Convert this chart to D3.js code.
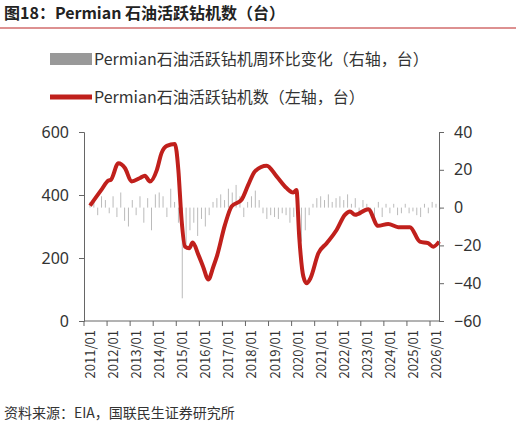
<!DOCTYPE html>
<html><head><meta charset="utf-8">
<script src="https://cdn.jsdelivr.net/npm/d3@7"></script>
<style>body{margin:0;background:#fff;font-family:"Noto Sans CJK SC","Noto Sans",sans-serif;}</style>
</head><body><div id="chart"></div>
<script>
// rig count (left axis): [decimal year, rigs]
var rigYears = [2011.0,2011.5,2011.8,2011.9,2012.23,2012.52,2012.8,2013.17,2013.38,2013.6,2013.9,2014.1,2014.33,2014.68,2014.83,2014.97,2015.12,2015.3,2015.45,2015.7,2015.9,2016.13,2016.35,2016.5,2016.85,2017.14,2017.57,2017.86,2018.15,2018.66,2019.09,2019.52,2019.81,2019.95,2020.07,2020.25,2020.39,2020.56,2020.9,2021.26,2021.69,2022.05,2022.27,2022.49,2023.06,2023.49,2023.93,2024.36,2024.87,2025.3,2025.66,2025.88,2026.14];
var rigCount = [366,417,446,448,501,485,443,454,461,443,480,533,556,562,480,321,236,231,249,210,173,132,173,205,305,364,385,432,475,493,459,422,408,416,268,141,120,136,215,247,289,337,348,337,355,302,308,298,298,252,247,236,252];
// change (right axis), one bar per two months from 2011/01
var changeStart = 2011.0, changeStep = 1 / 6;
var rigChange = [3,5,-4,6,4,-3, 6,-5,8,-7,-10,4, -4,6,-8,5,-12,7, 8,6,-5,10,3,-8,
  -48,-20,-12,-8,-15,-6, -10,-4,3,5,7,4, 10,8,12,6,-5,3, 6,9,4,-3,-6,-4,
  -5,-6,-3,-4,-8,-5, 3,-18,-12,-4,2,5, 6,4,7,3,5,6, 4,7,2,5,-3,4,
  2,-4,-6,3,-5,2, -3,2,-4,-3,2,-3, -2,-4,-5,2,-3,3, 2,-1];
var yearLabels = ["2011/01","2012/01","2013/01","2014/01","2015/01","2016/01","2017/01","2018/01","2019/01","2020/01","2021/01","2022/01","2023/01","2024/01","2025/01","2026/01"];

var W = 516, H = 430;
var svg = d3.select("#chart").append("svg").attr("width", W).attr("height", H);

// title
svg.append("text").attr("x", 4).attr("y", 19).attr("font-size", 16).attr("font-weight", "bold")
  .attr("fill", "#222").text("图18：Permian 石油活跃钻机数（台）");
svg.append("line").attr("x1", 0).attr("x2", W).attr("y1", 28).attr("y2", 28).attr("stroke", "#b22").attr("stroke-width", 1);

// legend
svg.append("rect").attr("x", 50).attr("y", 53).attr("width", 42).attr("height", 12).attr("fill", "#999");
svg.append("text").attr("x", 94).attr("y", 65).attr("font-size", 16).attr("fill", "#333").text("Permian石油活跃钻机周环比变化（右轴，台）");
svg.append("line").attr("x1", 50).attr("x2", 92).attr("y1", 97).attr("y2", 97).attr("stroke", "#c0201c").attr("stroke-width", 5);
svg.append("text").attr("x", 94).attr("y", 103).attr("font-size", 16).attr("fill", "#333").text("Permian石油活跃钻机数（左轴，台）");

var x = d3.scaleLinear().domain([2010.74, 2026.13]).range([84, 439]);
var yL = d3.scaleLinear().domain([0, 600]).range([321, 132]);
var yR = d3.scaleLinear().domain([-60, 40]).range([321, 132]);

// bars
svg.selectAll(".bar").data(rigChange).enter().append("rect")
  .attr("x", function(d, i) { return x(changeStart + i * changeStep) - 0.5; })
  .attr("width", 1)
  .attr("y", function(d) { return yR(Math.max(0, d)); })
  .attr("height", function(d) { return Math.abs(yR(d) - yR(0)); })
  .attr("fill", "#bbb");

// line
var pts = rigYears.map(function(t, i) { return [t, rigCount[i]]; });
svg.append("path").datum(pts)
  .attr("d", d3.line().curve(d3.curveMonotoneX).x(function(d) { return x(d[0]); }).y(function(d) { return yL(d[1]); }))
  .attr("fill", "none").attr("stroke", "#c0201c").attr("stroke-width", 4).attr("stroke-linejoin", "round");

// axes
function style(g) {
  g.selectAll("path,line").attr("stroke", "#666");
  g.selectAll("text").attr("font-size", 16).attr("fill", "#333").attr("font-family", "Noto Sans, sans-serif");
}
svg.append("g").attr("transform", "translate(84,0)")
  .call(d3.axisLeft(yL).tickValues([0, 200, 400, 600]).tickSize(5).tickSizeOuter(5).tickPadding(10)).call(style);
svg.append("g").attr("transform", "translate(439,0)")
  .call(d3.axisRight(yR).tickValues([-60, -40, -20, 0, 20, 40]).tickSize(5).tickSizeOuter(5).tickPadding(10)).call(style);

var xa = svg.append("g").attr("transform", "translate(0,321)");
xa.append("line").attr("x1", 84).attr("x2", 439).attr("stroke", "#666");
xa.selectAll(".tk").data(d3.range(0, 16)).enter().append("line")
  .attr("x1", function(d) { return x(2010.74 + d); }).attr("x2", function(d) { return x(2010.74 + d); })
  .attr("y1", 0).attr("y2", 5).attr("stroke", "#666");
xa.selectAll(".lb").data(yearLabels).enter().append("text")
  .attr("transform", function(d, i) { return "translate(" + (x(2011 + i) + 5) + ",9) rotate(-90)"; })
  .attr("text-anchor", "end").attr("font-size", 13).attr("fill", "#333").text(function(d) { return d; });

// source
svg.append("text").attr("x", 4).attr("y", 418).attr("font-size", 14).attr("fill", "#333").text("资料来源：EIA，国联民生证券研究所");
</script></body></html>
